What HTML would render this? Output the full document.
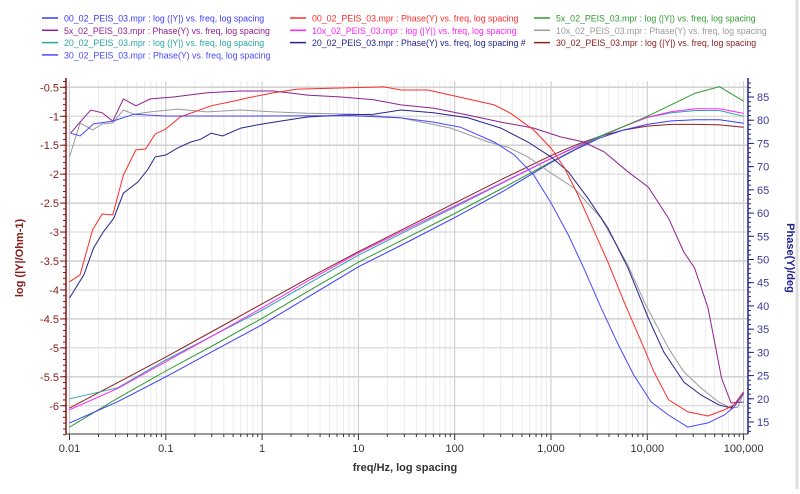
<!DOCTYPE html>
<html><head><meta charset="utf-8"><style>
body{margin:0;background:#fff;width:800px;height:489px;overflow:hidden;font-family:"Liberation Sans",sans-serif}
</style></head><body>
<svg id="chart" width="800" height="489" xmlns="http://www.w3.org/2000/svg" font-family="Liberation Sans, sans-serif"></svg>
<script>
// ---- data ----
const xTickValues=[0.01,0.1,1,10,100,1000,10000,100000];
const xTickLabels=["0.01","0.1","1","10","100","1,000","10,000","100,000"];
const leftTicks=[-0.5,-1,-1.5,-2,-2.5,-3,-3.5,-4,-4.5,-5,-5.5,-6];
const rightTicks=[15,20,25,30,35,40,45,50,55,60,65,70,75,80,85];
// log|Y| series, sampled at common log-frequencies
const magLogF=[-2,-1.5,-1,-0.5,0,0.5,1,1.5,2,2.5,3,3.25,3.5,3.75,4,4.25,4.5,4.75,5];
const mag00=[-6.3,-5.93,-5.5,-5.05,-4.6,-4.1,-3.6,-3.18,-2.75,-2.3,-1.8,-1.58,-1.38,-1.24,-1.14,-1.08,-1.06,-1.06,-1.12];
const mag5x=[-6.37,-5.87,-5.4,-4.95,-4.49,-4.0,-3.52,-3.1,-2.68,-2.24,-1.79,-1.57,-1.36,-1.18,-1.0,-0.8,-0.6,-0.49,-0.74];
const mag10x=[-6.07,-5.7,-5.24,-4.78,-4.31,-3.82,-3.36,-2.95,-2.55,-2.14,-1.73,-1.54,-1.36,-1.18,-1.02,-0.92,-0.87,-0.87,-0.95];
const mag20=[-5.88,-5.69,-5.21,-4.78,-4.35,-3.87,-3.4,-2.98,-2.57,-2.15,-1.73,-1.53,-1.35,-1.18,-1.02,-0.94,-0.9,-0.9,-1.0];
const mag30=[-6.04,-5.6,-5.16,-4.7,-4.24,-3.78,-3.34,-2.92,-2.5,-2.08,-1.68,-1.5,-1.35,-1.24,-1.17,-1.14,-1.14,-1.15,-1.19];
// phase series
const ph00LogF=[-2,-1.89,-1.76,-1.66,-1.55,-1.44,-1.31,-1.21,-1.11,-1.0,-0.85,-0.53,-0.3,-0.15,0.12,0.37,1.26,1.44,1.72,1.96,2.41,2.58,2.82,3.0,3.14,3.28,3.42,3.59,3.76,3.94,4.07,4.22,4.42,4.63,4.8,4.9,5];
const ph00=[45.2,46.7,56.4,59.8,59.6,68.2,73.6,73.8,77,78.1,80.7,83.1,84.1,84.8,85.9,86.7,87.2,86.5,86.5,85.4,83.3,81.5,77.9,74,69.7,63.9,57.4,49.5,40.8,32.2,25.8,19.8,17.2,16.3,17.6,18.7,21.5];
const ph5xLogF=[-1.99,-1.89,-1.78,-1.66,-1.55,-1.44,-1.31,-1.16,-0.92,-0.57,-0.22,0.12,0.47,0.82,1.16,1.44,1.78,2.14,2.48,2.82,3.1,3.34,3.55,3.8,4.01,4.22,4.38,4.49,4.63,4.77,4.87,5];
const ph5x=[77.2,79.6,82.2,81.6,79.8,84.6,83.1,84.6,85,85.9,86.3,86.3,85.4,85,84.4,83.3,82.6,81.1,79.6,78.3,76.4,75.3,73.2,68.9,65.6,58.9,51.6,48.2,39.6,24.5,19.1,19.3];
const ph10xLogF=[-2,-1.89,-1.76,-1.66,-1.55,-1.44,-1.33,-1.16,-0.88,-0.57,-0.22,0.12,0.47,0.99,1.44,1.96,2.35,2.55,2.76,3.0,3.24,3.52,3.8,3.97,4.22,4.38,4.56,4.74,4.87,4.94,5];
const ph10x=[72.1,79.4,77.9,79.2,79.4,82.2,81.3,81.8,82.4,81.8,82.2,81.8,81.5,81.3,80.5,78.3,75.3,74.2,72.1,68.6,65.4,58.9,48.8,40.8,30.9,25.8,22.3,19.3,18,18.2,21.2];
const ph20LogF=[-2,-1.85,-1.75,-1.65,-1.54,-1.44,-1.29,-1.19,-1.11,-1.0,-0.88,-0.74,-0.64,-0.53,-0.41,-0.22,-0.05,0.19,0.47,0.82,1.16,1.44,1.78,2.14,2.48,2.76,3.0,3.18,3.38,3.59,3.8,4.01,4.17,4.38,4.56,4.74,4.87,5];
const ph20=[41.7,46.7,52.5,55.9,58.9,64.3,66.7,69.3,72.1,72.5,74,75.3,75.9,77.2,76.6,78.3,79,79.8,80.7,81.1,81.3,82.2,81.6,80.5,78.3,75.3,72.1,68.9,63.3,56.8,48.2,37.4,30.1,23.6,20.8,18.7,18,21.2];
const ph30LogF=[-1.99,-1.89,-1.75,-1.55,-1.33,-1.0,-0.12,0.92,1.44,1.78,2.06,2.41,2.62,2.82,3.0,3.18,3.34,3.52,3.7,3.86,4.04,4.22,4.42,4.63,4.8,4.9,5];
const ph30=[77.2,76.6,79.2,79.8,81.3,80.9,80.9,81,80.5,79.6,78.5,75.3,72.5,68.2,62.2,55.3,48.2,39.6,31.6,25.1,19.3,16.5,13.9,14.8,16.5,18.2,21.2];

// ---- axes ----
const NS="http://www.w3.org/2000/svg";
const svg=document.getElementById('chart');
const PL=66,PR=748,PT=81,PB=434;
const X=lf=>69.5+(lf+2)*96.3;
const YL=v=>87.3+(-0.5-v)*57.9;
const YR=v=>97+(85-v)*4.643;
function el(t,a,p){const e=document.createElementNS(NS,t);for(const k in a)e.setAttribute(k,a[k]);(p||svg).appendChild(e);return e;}

const grid=el('g',{});


for(let d=-2;d<5;d++){for(let m=2;m<10;m++){const x=X(d+Math.log10(m));el('line',{x1:x,x2:x,y1:PT,y2:PB,stroke:'#ececec','stroke-width':1},grid);}}
xTickValues.forEach(v=>{const x=X(Math.log10(v));el('line',{x1:x,x2:x,y1:PT,y2:PB,stroke:'#c8c8c8','stroke-width':1},grid);});
leftTicks.forEach(v=>{el('line',{x1:PL,x2:PR,y1:YL(v),y2:YL(v),stroke:'#d0d0d0','stroke-width':(Math.round(v)===v?1:1.5)},grid);});

const la=el('line',{x1:PL,x2:PL,y1:PT-3,y2:PB,stroke:'#8b1010','stroke-width':1.5});

const ra=el('line',{x1:PR,x2:PR,y1:PT-3,y2:PB,stroke:'#23238c','stroke-width':1.5});

const ba=el('line',{x1:PL,x2:PR,y1:PB,y2:PB,stroke:'#333','stroke-width':1});


for(let v=-0.4;v>=-6.51;v-=0.1){const y=YL(v);el('line',{x1:PL-3,x2:PL,y1:y,y2:y,stroke:'#8b1010'});}
leftTicks.forEach(v=>{const y=YL(v);el('line',{x1:PL-6,x2:PL,y1:y,y2:y,stroke:'#8b1010'});
 const t=el('text',{x:PL-7,y:y+4,'text-anchor':'end','font-size':11,fill:'#8b1a1a'});t.textContent=String(v);
 });
for(let v=13;v<=88;v+=1){const y=YR(v);el('line',{x1:PR,x2:PR+3,y1:y,y2:y,stroke:'#23238c'});}
rightTicks.forEach(v=>{const y=YR(v);el('line',{x1:PR,x2:PR+6,y1:y,y2:y,stroke:'#23238c'});
 const t=el('text',{x:PR+9,y:y+4,'font-size':11,fill:'#3a3a9a'});t.textContent=String(v);
 });
for(let d=-2;d<5;d++){for(let m=2;m<10;m++){const x=X(d+Math.log10(m));el('line',{x1:x,x2:x,y1:PB,y2:PB+3,stroke:'#333'});}}
xTickValues.forEach((v,i)=>{const x=X(Math.log10(v));el('line',{x1:x,x2:x,y1:PB,y2:PB+6,stroke:'#333'});
 const t=el('text',{x:x,y:PB+18,'text-anchor':'middle','font-size':11,fill:'#333'});t.textContent=xTickLabels[i];
 });

let t=el('text',{x:405,y:471,'text-anchor':'middle','font-size':11,'font-weight':'bold',fill:'#333'});t.textContent='freq/Hz, log spacing';

t=el('text',{x:0,y:0,'text-anchor':'middle','font-size':11,'font-weight':'bold',fill:'#8b1a1a',transform:'translate(23,258) rotate(-90)'});t.textContent='log (|Y|/Ohm-1)';

t=el('text',{x:0,y:0,'text-anchor':'middle','font-size':11,'font-weight':'bold',fill:'#23238c',transform:'translate(787,258) rotate(90)'});t.textContent='Phase(Y)/deg';

el('line',{x1:797,x2:797,y1:0,y2:489,stroke:'#ddd','stroke-width':3});

function poly(lfs,vals,yf,color,name){
 const p=lfs.map((lf,i)=>X(lf).toFixed(1)+','+yf(vals[i]).toFixed(1)).join(' ');
 const e=el('polyline',{points:p,fill:'none',stroke:color,'stroke-width':1});
 
 
}
const C={b:'#3a3aff',r:'#ff2a2a',g:'#2e9a2e',pu:'#8e228e',m:'#ff22ff',gr:'#9a9a9a',t:'#2aa5a5',n:'#24248a',br:'#8b2020'};
poly(magLogF,mag30,YL,C.br,'mag-30-line');
poly(magLogF,mag20,YL,C.t,'mag-20-line');
poly(magLogF,mag10x,YL,C.m,'mag-10x-line');
poly(magLogF,mag5x,YL,C.g,'mag-5x-line');
poly(magLogF,mag00,YL,C.b,'mag-00-line');
poly(ph10xLogF,ph10x,YR,C.gr,'phase-10x-line');
poly(ph5xLogF,ph5x,YR,C.pu,'phase-5x-line');
poly(ph20LogF,ph20,YR,C.n,'phase-20-line');
poly(ph00LogF,ph00,YR,C.r,'phase-00-line');
poly(ph30LogF,ph30,YR,'#4848ff','phase-30-line');

const legNames=["00_02_PEIS_03.mpr : log (|Y|) vs. freq, log spacing","00_02_PEIS_03.mpr : Phase(Y) vs. freq, log spacing","5x_02_PEIS_03.mpr : log (|Y|) vs. freq, log spacing",
"5x_02_PEIS_03.mpr : Phase(Y) vs. freq, log spacing","10x_02_PEIS_03.mpr : log (|Y|) vs. freq, log spacing","10x_02_PEIS_03.mpr : Phase(Y) vs. freq, log spacing",
"20_02_PEIS_03.mpr : log (|Y|) vs. freq, log spacing","20_02_PEIS_03.mpr : Phase(Y) vs. freq, log spacing #","30_02_PEIS_03.mpr : log (|Y|) vs. freq, log spacing",
"30_02_PEIS_03.mpr : Phase(Y) vs. freq, log spacing"];
const legColors=[C.b,C.r,C.g,C.pu,C.m,C.gr,C.t,C.n,C.br,'#4848ff'];
const colX=[42,290,534];
legNames.forEach((n,i)=>{const cx=colX[i%3],cy=18+Math.floor(i/3)*12.3;
 const g=el('g',{});
 
 
 el('line',{x1:cx,x2:cx+16,y1:cy,y2:cy,stroke:legColors[i],'stroke-width':1.5},g);
 const tt=el('text',{x:cx+22,y:cy+3.5,'font-size':8.8,fill:legColors[i]},g);tt.textContent=n;});
</script>
</body></html>
